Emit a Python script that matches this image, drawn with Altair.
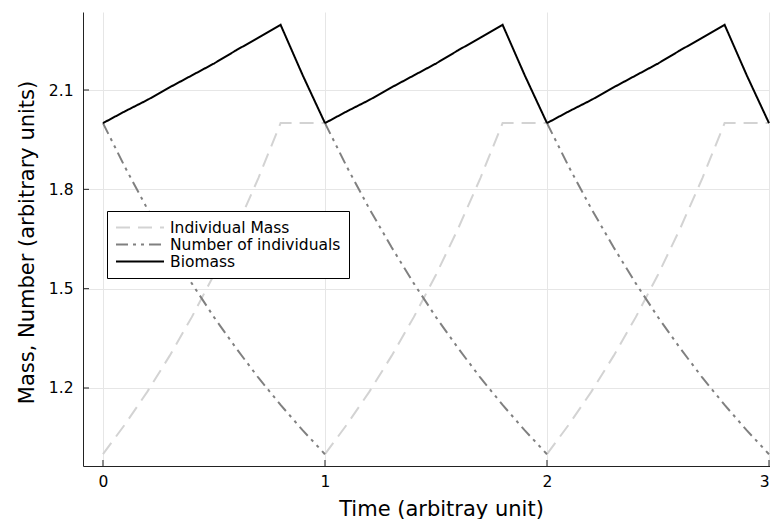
import altair as alt
import pandas as pd

# ---- data ----
series_names = ["Individual Mass", "Number of individuals", "Biomass"]
cycle_starts = [0, 1, 2]
local_time = [0.0, 0.1, 0.2, 0.3, 0.4, 0.5, 0.6, 0.7, 0.8, 0.9, 1.0]
mass_cycle = [1.0, 1.091, 1.189, 1.297, 1.414, 1.542, 1.682, 1.834, 2.0, 2.0, 2.0]
number_cycle = [2.0, 1.866, 1.741, 1.625, 1.516, 1.414, 1.320, 1.231, 1.149, 1.072, 1.0]
biomass_cycle = [2.0, 2.036, 2.070, 2.108, 2.144, 2.180, 2.220, 2.258, 2.297, 2.144, 2.0]
x_ticks = [0, 1, 2, 3]
y_ticks = [1.2, 1.5, 1.8, 2.1]

rows = []
for c in cycle_starts:
    for name, vals in zip(series_names, [mass_cycle, number_cycle, biomass_cycle]):
        for t, v in zip(local_time, vals):
            rows.append({"t": c + t, "v": v, "series": name, "seg": f"{name}-{c}"})
df = pd.DataFrame(rows)

W, H = 687, 454
FONT = "DejaVu Sans"

xscale = alt.Scale(domain=[-0.09, 3.0045], nice=False, zero=False)
yscale = alt.Scale(domain=[0.9644, 2.3356], nice=False, zero=False)

legend_opts = dict(
    title=None,
    orient="none",
    legendX=24,
    legendY=199,
    padding=8,
    strokeColor="#000000",
    fillColor="#ffffff",
    labelFont=FONT,
    labelFontSize=15.5,
    labelColor="#000000",
    symbolType="stroke",
    symbolSize=2304,
    symbolStrokeWidth=2,
    labelOffset=5,
    rowPadding=0,
    clipHeight=17,
    labelLimit=400,
)

color = alt.Color(
    "series:N",
    scale=alt.Scale(domain=series_names, range=["#d3d3d3", "#808080", "#000000"]),
    legend=alt.Legend(**legend_opts),
)
dash = alt.StrokeDash(
    "series:N",
    scale=alt.Scale(domain=series_names, range=[[14, 8], [12, 5, 3, 5, 3, 5], [1, 0]]),
    legend=alt.Legend(**legend_opts),
)

xaxis = alt.Axis(
    values=x_ticks, format="d", ticks=False, grid=True, gridColor="#e6e6e6",
    domainColor="#222222", labelFont=FONT, labelFontSize=15.5, labelColor="#000000",
    labelPadding=8, title="Time (arbitray unit)", titleFont=FONT, titleFontSize=21,
    titleFontWeight="normal", titleColor="#000000", titleX=358, titleY=49,
    titleBaseline="alphabetic", titleAlign="center", labelFlush=2,
)
yaxis = alt.Axis(
    values=y_ticks, format=".1f", ticks=False, grid=True, gridColor="#e6e6e6",
    domainColor="#222222", labelFont=FONT, labelFontSize=15.5, labelColor="#000000",
    labelPadding=10, title="Mass, Number (arbitrary units)", titleFont=FONT,
    titleFontSize=21, titleFontWeight="normal", titleColor="#000000",
    titleX=-56, titleY=230, titleAngle=270, titleBaseline="middle", titleAlign="center",
    labelFlush=False,
)

base = alt.Chart(df)

layers = []
for name in series_names:
    layers.append(
        base.transform_filter(alt.datum.series == name)
        .mark_line(strokeWidth=2, strokeCap="butt")
        .encode(
            x=alt.X("t:Q", scale=xscale, axis=xaxis),
            y=alt.Y("v:Q", scale=yscale, axis=yaxis),
            color=color,
            strokeDash=dash,
            detail="seg:N",
            order="t:Q",
        )
    )

xt = alt.Chart(pd.DataFrame({"t": x_ticks})).mark_rule(color="#222222", strokeWidth=1).encode(
    x=alt.X("t:Q", scale=xscale, axis=xaxis), y=alt.value(H), y2=alt.value(H - 6)
)
yt = alt.Chart(pd.DataFrame({"v": y_ticks})).mark_rule(color="#222222", strokeWidth=1).encode(
    y=alt.Y("v:Q", scale=yscale, axis=yaxis), x=alt.value(0), x2=alt.value(6)
)

chart = (
    alt.layer(*layers, xt, yt)
    .properties(
        width=W,
        height=H,
        autosize=alt.AutoSizeParams(type="none"),
        padding={"left": 75, "top": 4, "right": 0, "bottom": 53},
    )
    .configure_view(stroke=None)
    .configure_axis(domainWidth=1)
)

chart.save("out.html", embed_options={"renderer": "svg", "actions": False})
